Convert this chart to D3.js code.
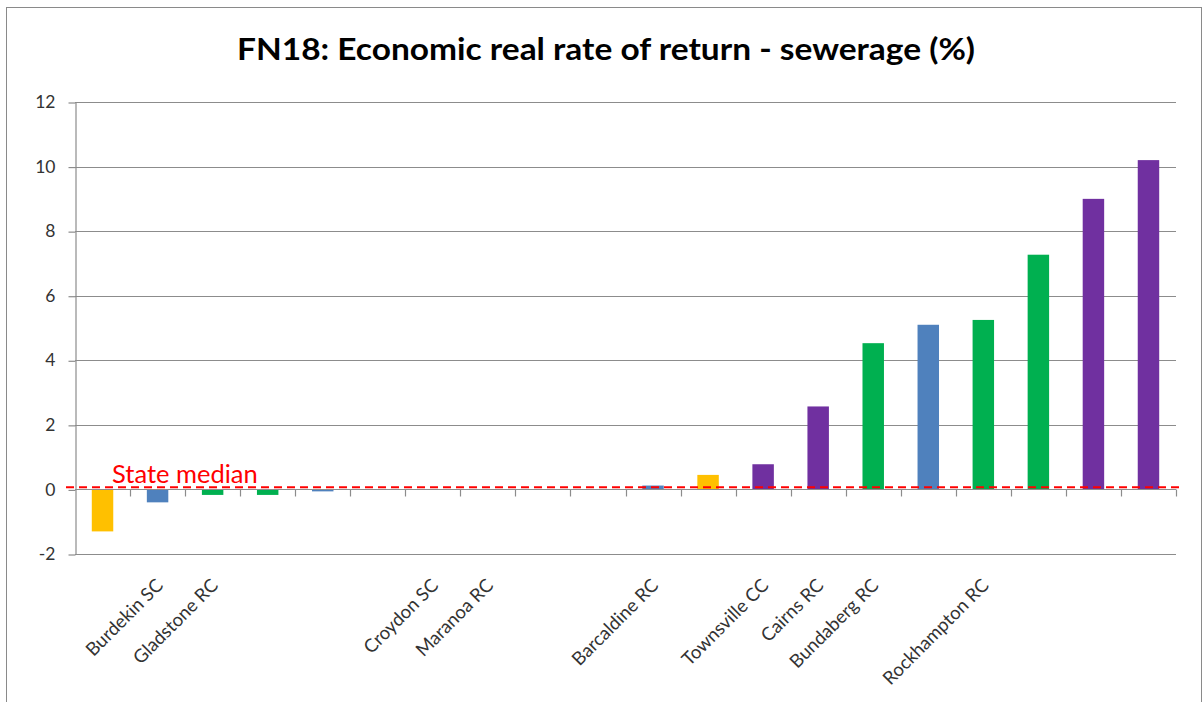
<!DOCTYPE html>
<html>
<head>
<meta charset="utf-8">
<script src="https://cdn.jsdelivr.net/npm/d3@7"></script>
<style>
  body { margin: 0; background: #fff; }
  svg { display: block; }
  text { font-family: Lato, "Open Sans", sans-serif; }
</style>
</head>
<body>
<svg id="chart" width="1203" height="702"></svg>
<script>
// Councils in ranked order (unnamed councils keep an empty label)
const councils = ["", "Burdekin SC", "Gladstone RC", "", "", "", "Croydon SC", "Maranoa RC", "", "",
                  "Barcaldine RC", "", "Townsville CC", "Cairns RC", "Bundaberg RC", "", "Rockhampton RC", "", "", ""];
// Economic real rate of return, sewerage (%)
const returns = [-1.3, -0.4, -0.17, -0.17, -0.06, 0, 0, 0, 0, 0,
                 0.12, 0.45, 0.78, 2.57, 4.53, 5.1, 5.25, 7.27, 9.0, 10.2];
// Council size group for each bar
const groups = ["Group 1", "Group 2", "Group 3", "Group 3", "Group 2", "Group 2", "Group 2", "Group 2", "Group 2", "Group 2",
                "Group 2", "Group 1", "Group 4", "Group 4", "Group 3", "Group 2", "Group 3", "Group 3", "Group 4", "Group 4"];
const groupNames = ["Group 1", "Group 2", "Group 3", "Group 4"];
const groupColours = ["#FFC000", "#4F81BD", "#00B050", "#7030A0"];
const yTicks = [-2, 0, 2, 4, 6, 8, 10, 12];
const stateMedian = 0.07;
const title = "FN18: Economic real rate of return - sewerage (%)";

const svg = d3.select("#chart");
const plotLeft = 75, plotRight = 1176, plotTop = 102, plotBottom = 554;

// Outer chart frame
svg.append("rect")
  .attr("x", 6.5).attr("y", 7.5).attr("width", 1195).attr("height", 740)
  .attr("fill", "#fff").attr("stroke", "#8a8a8a").attr("stroke-width", 1);

svg.append("text")
  .attr("x", 606).attr("y", 60)
  .attr("text-anchor", "middle")
  .attr("font-size", 30).attr("font-weight", 700).attr("fill", "#000")
  .attr("textLength", 738).attr("lengthAdjust", "spacingAndGlyphs")
  .text(title);

const x = d3.scaleBand()
  .domain(d3.range(councils.length))
  .range([plotLeft, plotRight])
  .paddingInner(0.61)
  .paddingOuter(0.305);

const y = d3.scaleLinear().domain([-2, 12]).range([plotBottom, plotTop]);
const colour = d3.scaleOrdinal().domain(groupNames).range(groupColours);

// Horizontal gridlines
svg.append("g")
  .selectAll("line")
  .data(yTicks)
  .join("line")
  .attr("x1", plotLeft).attr("x2", plotRight)
  .attr("y1", d => Math.round(y(d)) + 0.5).attr("y2", d => Math.round(y(d)) + 0.5)
  .attr("stroke", "#8c8c8c").attr("stroke-width", 1.2);

// Value axis
const yAxis = svg.append("g")
  .attr("transform", `translate(${plotLeft + 0.5},0)`)
  .call(d3.axisLeft(y).tickValues(yTicks).tickSize(7).tickSizeOuter(0).tickPadding(13)
    .tickFormat(d => String(d)));
yAxis.select(".domain").attr("stroke", "#8c8c8c").attr("stroke-width", 1.2);
yAxis.selectAll(".tick line").attr("stroke", "#8c8c8c").attr("stroke-width", 1.2)
  .attr("transform", "translate(0,0.5)");
yAxis.selectAll(".tick text")
  .attr("font-family", "Lato, 'Open Sans', sans-serif")
  .attr("font-size", 17.5).attr("fill", "#333");

// Bars
svg.append("g")
  .selectAll("rect")
  .data(returns)
  .join("rect")
  .attr("x", (d, i) => x(i))
  .attr("width", x.bandwidth())
  .attr("y", d => y(Math.max(0, d)))
  .attr("height", d => Math.abs(y(d) - y(0)))
  .attr("fill", (d, i) => colour(groups[i]));

// Category axis at zero with ticks between categories
const zeroY = Math.round(y(0)) + 0.5;
const boundary = d3.scaleLinear().domain([0, councils.length]).range([plotLeft, plotRight]);
const xAxis = svg.append("g");
xAxis.append("line")
  .attr("x1", plotLeft).attr("x2", plotRight).attr("y1", zeroY).attr("y2", zeroY)
  .attr("stroke", "#8c8c8c").attr("stroke-width", 1.2);
xAxis.selectAll(".tick")
  .data(d3.range(1, councils.length + 1))
  .join("line")
  .attr("class", "tick")
  .attr("x1", d => Math.round(boundary(d)) + 0.5).attr("x2", d => Math.round(boundary(d)) + 0.5)
  .attr("y1", zeroY).attr("y2", zeroY + 7)
  .attr("stroke", "#8c8c8c").attr("stroke-width", 1.2);

// Category labels, rotated
svg.append("g")
  .selectAll("text")
  .data(councils.map((name, i) => ({ name, i })).filter(d => d.name))
  .join("text")
  .attr("transform", d => `translate(${x(d.i) + x.bandwidth() / 2 + 2},582) rotate(-45)`)
  .attr("text-anchor", "end")
  .attr("dy", "0.35em")
  .attr("font-size", 18.5).attr("fill", "#333")
  .text(d => d.name);

// State median reference line
const medY = y(stateMedian);
svg.append("line")
  .attr("x1", 66).attr("x2", 1182).attr("y1", medY).attr("y2", medY)
  .attr("stroke", "#FF0000").attr("stroke-width", 2)
  .attr("stroke-dasharray", "8,5");
svg.append("text")
  .attr("x", 112).attr("y", medY - 4)
  .attr("font-size", 25.5).attr("fill", "#FF0000")
  .text("State median");
</script>
</body>
</html>
